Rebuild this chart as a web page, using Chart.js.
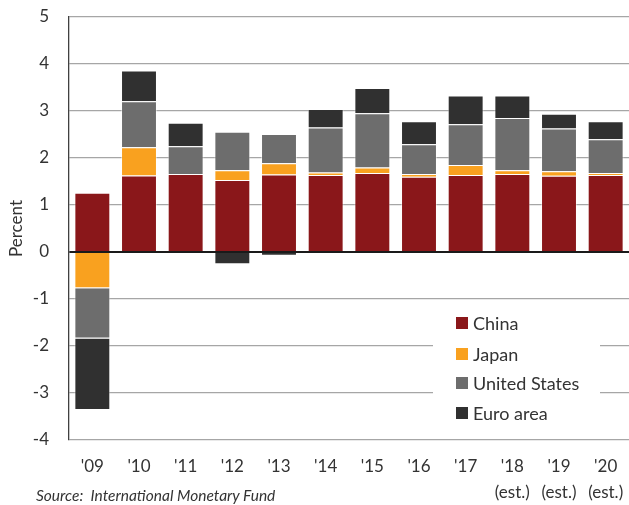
<!DOCTYPE html>
<html>
<head>
<meta charset="utf-8">
<script src="https://cdn.jsdelivr.net/npm/chart.js@4/dist/chart.umd.min.js"></script>
<style>
  html, body { margin: 0; padding: 0; background: #fff; }
  #wrap { position: relative; width: 629px; height: 505px; }
  #source { position: absolute; left: 36px; top: 486px; font: italic 15.5px Lato, sans-serif; color: #333; white-space: pre; }
</style>
</head>
<body>
<div id="wrap">
  <canvas id="c" width="629" height="505"></canvas>
  <div id="source">Source:  International Monetary Fund</div>
</div>
<script>
const categories = ["'09", "'10", "'11", "'12", "'13", "'14", "'15", "'16", "'17", ["'18", "(est.)"], ["'19", "(est.)"], ["'20", "(est.)"]];
const china = [1.26, 1.63, 1.66, 1.53, 1.65, 1.64, 1.68, 1.60, 1.64, 1.66, 1.62, 1.64];
const japan = [-0.77, 0.60, 0.00, 0.21, 0.24, 0.05, 0.12, 0.06, 0.21, 0.08, 0.10, 0.04];
const unitedStates = [-1.07, 0.98, 0.59, 0.82, 0.62, 0.96, 1.15, 0.63, 0.87, 1.11, 0.91, 0.72];
const euroArea = [-1.52, 0.65, 0.50, -0.26, -0.08, 0.39, 0.54, 0.49, 0.61, 0.48, 0.31, 0.38];
const yTicks = [5, 4, 3, 2, 1, 0, -1, -2, -3, -4];

const FONT = 'Lato, sans-serif';
const TEXT = '#333333';

const legendPlugin = {
  id: 'insideLegend',
  afterDatasetsDraw(chart) {
    const ctx = chart.ctx;
    ctx.save();
    ctx.fillStyle = '#ffffff';
    ctx.fillRect(433, 302, 167, 120);
    const x0 = 456, ys = [323, 354, 383, 413];
    ctx.font = '18px ' + FONT;
    ctx.textBaseline = 'middle';
    chart.data.datasets.forEach((ds, i) => {
      ctx.fillStyle = ds.backgroundColor;
      ctx.fillRect(x0, ys[i] - 6, 12, 12);
      ctx.fillStyle = TEXT;
      ctx.fillText(ds.label, x0 + 17, ys[i] + 1);
    });
    ctx.restore();
  }
};

const border = 'rgba(255,255,255,0.45)';
new Chart(document.getElementById('c'), {
  type: 'bar',
  data: {
    labels: categories,
    datasets: [
      { label: 'China', data: china, backgroundColor: '#8a171a', borderColor: border, borderWidth: 1 },
      { label: 'Japan', data: japan, backgroundColor: '#f9a11f', borderColor: border, borderWidth: 1 },
      { label: 'United States', data: unitedStates, backgroundColor: '#6d6d6d', borderColor: border, borderWidth: 1 },
      { label: 'Euro area', data: euroArea, backgroundColor: '#303030', borderColor: border, borderWidth: 1 }
    ]
  },
  options: {
    responsive: false,
    animation: false,
    layout: { autoPadding: false, padding: { top: 17, right: 0, left: 0, bottom: 0 } },
    plugins: { legend: { display: false }, tooltip: { enabled: false } },
    datasets: { bar: { categoryPercentage: 0.77, barPercentage: 1.0 } },
    scales: {
      x: {
        stacked: true,
        grid: { display: false, drawTicks: false },
        border: { display: false },
        ticks: { color: TEXT, font: { family: FONT, size: 17, lineHeight: 1.5 }, padding: 14, maxRotation: 0, autoSkip: false },
        afterFit(s) { s.height = 65; s.paddingLeft = 0; s.paddingRight = 0; }
      },
      y: {
        stacked: true,
        min: -4, max: 5,
        afterBuildTicks(s) { s.ticks = yTicks.map(v => ({ value: v })); },
        grid: {
          drawTicks: false,
          color: c => c.tick && c.tick.value === 0 ? '#1a1a1a' : '#a6a6a6',
          lineWidth: c => c.tick && c.tick.value === 0 ? 2 : 1.3
        },
        border: { display: true, color: '#404040', width: 1.3 },
        ticks: { color: TEXT, font: { family: FONT, size: 17 }, padding: 20 },
        title: { display: true, text: 'Percent', color: TEXT, font: { family: FONT, size: 17 }, padding: { top: 6, bottom: 6 } },
        afterFit(s) { s.width = 69; s.paddingTop = 0; s.paddingBottom = 0; }
      }
    }
  },
  plugins: [legendPlugin]
});
</script>
</body>
</html>
